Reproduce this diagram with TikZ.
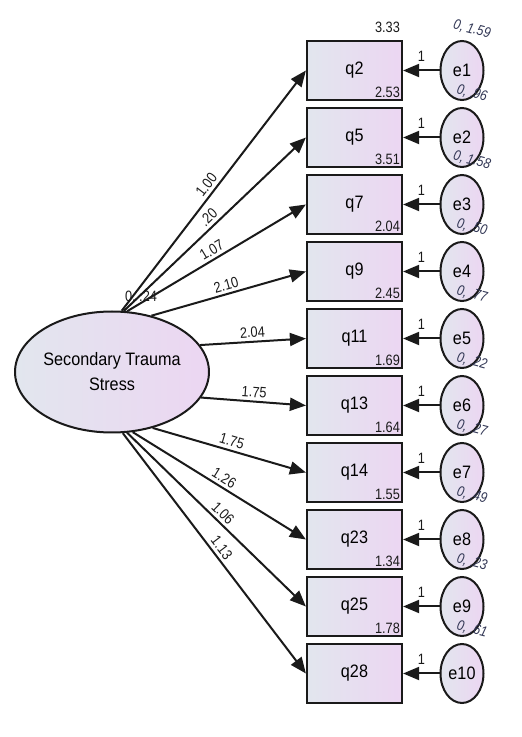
\documentclass[tikz,border=0pt]{standalone}
\usepackage{fontspec}
\setmainfont{Liberation Sans}[FakeStretch=0.9]
\newfontfamily\numfont{Liberation Sans}[FakeStretch=0.85]
\usetikzlibrary{arrows.meta,shapes.geometric}

\begin{document}
\begin{tikzpicture}[x=1pt,y=1pt,
  obs/.style={rectangle,draw=drawColor,line width=2.2pt,minimum width=95pt,minimum height=59pt,inner sep=0pt,
    left color=leftColor,right color=rightColor,font=\fontsize{18}{20}\selectfont},
  err/.style={ellipse,draw=drawColor,line width=2pt,minimum width=43pt,minimum height=59pt,inner sep=0pt,
    left color=leftColor,right color=rightColor,font=\fontsize{18}{20}\selectfont},
  lat/.style={ellipse,draw=drawColor,line width=2pt,minimum width=193pt,minimum height=121pt,inner sep=0pt,
    align=center,left color=leftColor,right color=rightColor,font=\fontsize{18}{25}\selectfont},
  arrowline/.style={draw=drawColor,line width=2pt,-{Triangle[length=16pt,width=13pt]}},
  num/.style={text=drawColor,font=\numfont\fontsize{15}{17}\selectfont,inner sep=0pt},
  load/.style={num,midway,sloped,above,inner sep=3pt},
  one/.style={num,midway,above=8pt},
  var/.style={text=varColor,font=\numfont\fontsize{14.5}{17}\selectfont\itshape,inner sep=0pt,rotate=-15}]
\definecolor{drawColor}{RGB}{26,26,26}
\definecolor{varColor}{RGB}{50,55,85}
\definecolor{leftColor}{RGB}{226,230,238}
\definecolor{rightColor}{RGB}{236,214,242}
\path[use as bounding box,fill=white] (0,0) rectangle (522,737);

% latent factor
\node[lat] (sts) at (112,365) {Secondary Trauma\\Stress};
\node[num] (vsts) at (141,440) {0, .24};

% observed items
\node[obs] (q2) at (354.5,666.5) {q2};
\node[obs] (q5) at (354.5,599.5) {q5};
\node[obs] (q7) at (354.5,532.5) {q7};
\node[obs] (q9) at (354.5,465.5) {q9};
\node[obs] (q11) at (354.5,398.5) {q11};
\node[obs] (q13) at (354.5,331.5) {q13};
\node[obs] (q14) at (354.5,264.5) {q14};
\node[obs] (q23) at (354.5,197.5) {q23};
\node[obs] (q25) at (354.5,130.5) {q25};
\node[obs] (q28) at (354.5,63.5) {q28};

% error terms
\node[err] (e1) at (462,666.5) {e1};
\node[err] (e2) at (462,599.5) {e2};
\node[err] (e3) at (462,532.5) {e3};
\node[err] (e4) at (462,465.5) {e4};
\node[err] (e5) at (462,398.5) {e5};
\node[err] (e6) at (462,331.5) {e6};
\node[err] (e7) at (462,264.5) {e7};
\node[err] (e8) at (462,197.5) {e8};
\node[err] (e9) at (462,130.5) {e9};
\node[err] (e10) at (462,63.5) {e10};

% loadings
\draw[arrowline] (sts.81) -- node[load] (l2) {1.00} (q2.west);
\draw[arrowline] (sts.79) -- node[load] (l5) {.20} (q5.west);
\draw[arrowline] (sts.76) -- node[load] (l7) {1.07} (q7.west);
\draw[arrowline] (sts.55) -- node[load] (l9) {2.10} (q9.west);
\draw[arrowline] (sts.17) -- node[load] (l11) {2.04} (q11.west);
\draw[arrowline] (sts.-16) -- node[load] (l13) {1.75} (q13.west);
\draw[arrowline] (sts.-54) -- node[load] (l14) {1.75} (q14.west);
\draw[arrowline] (sts.-71) -- node[load] (l23) {1.26} (q23.west);
\draw[arrowline] (sts.-76) -- node[load] (l25) {1.06} (q25.west);
\draw[arrowline] (sts.-80) -- node[load] (l28) {1.13} (q28.west);

% error paths
\draw[arrowline] (e1) -- node[one] (w1) {1} (q2);
\draw[arrowline] (e2) -- node[one] (w2) {1} (q5);
\draw[arrowline] (e3) -- node[one] (w3) {1} (q7);
\draw[arrowline] (e4) -- node[one] (w4) {1} (q9);
\draw[arrowline] (e5) -- node[one] (w5) {1} (q11);
\draw[arrowline] (e6) -- node[one] (w6) {1} (q13);
\draw[arrowline] (e7) -- node[one] (w7) {1} (q14);
\draw[arrowline] (e8) -- node[one] (w8) {1} (q23);
\draw[arrowline] (e9) -- node[one] (w9) {1} (q25);
\draw[arrowline] (e10) -- node[one] (w10) {1} (q28);

% intercepts
\node[num,anchor=south east] (i0) at ([xshift=-3pt,yshift=7pt]q2.north east) {3.33};
\node[num,anchor=south east] (i1) at ([xshift=-3pt,yshift=3pt]q2.south east) {2.53};
\node[num,anchor=south east] (i2) at ([xshift=-3pt,yshift=3pt]q5.south east) {3.51};
\node[num,anchor=south east] (i3) at ([xshift=-3pt,yshift=3pt]q7.south east) {2.04};
\node[num,anchor=south east] (i4) at ([xshift=-3pt,yshift=3pt]q9.south east) {2.45};
\node[num,anchor=south east] (i5) at ([xshift=-3pt,yshift=3pt]q11.south east) {1.69};
\node[num,anchor=south east] (i6) at ([xshift=-3pt,yshift=3pt]q13.south east) {1.64};
\node[num,anchor=south east] (i7) at ([xshift=-3pt,yshift=3pt]q14.south east) {1.55};
\node[num,anchor=south east] (i8) at ([xshift=-3pt,yshift=3pt]q23.south east) {1.34};
\node[num,anchor=south east] (i9) at ([xshift=-3pt,yshift=3pt]q25.south east) {1.78};

% error means and variances
\node[var] (v0) at ([xshift=10pt,yshift=41pt]e1.center) {0, 1.59};
\node[var] (v1) at ([xshift=10pt,yshift=-23pt]e1.center) {0, .96};
\node[var] (v2) at ([xshift=10pt,yshift=-23pt]e2.center) {0, 1.58};
\node[var] (v3) at ([xshift=10pt,yshift=-23pt]e3.center) {0, .50};
\node[var] (v4) at ([xshift=10pt,yshift=-23pt]e4.center) {0, .77};
\node[var] (v5) at ([xshift=10pt,yshift=-23pt]e5.center) {0, .22};
\node[var] (v6) at ([xshift=10pt,yshift=-23pt]e6.center) {0, .27};
\node[var] (v7) at ([xshift=10pt,yshift=-23pt]e7.center) {0, .49};
\node[var] (v8) at ([xshift=10pt,yshift=-23pt]e8.center) {0, .23};
\node[var] (v9) at ([xshift=10pt,yshift=-23pt]e9.center) {0, .61};
\end{tikzpicture}
\end{document}
